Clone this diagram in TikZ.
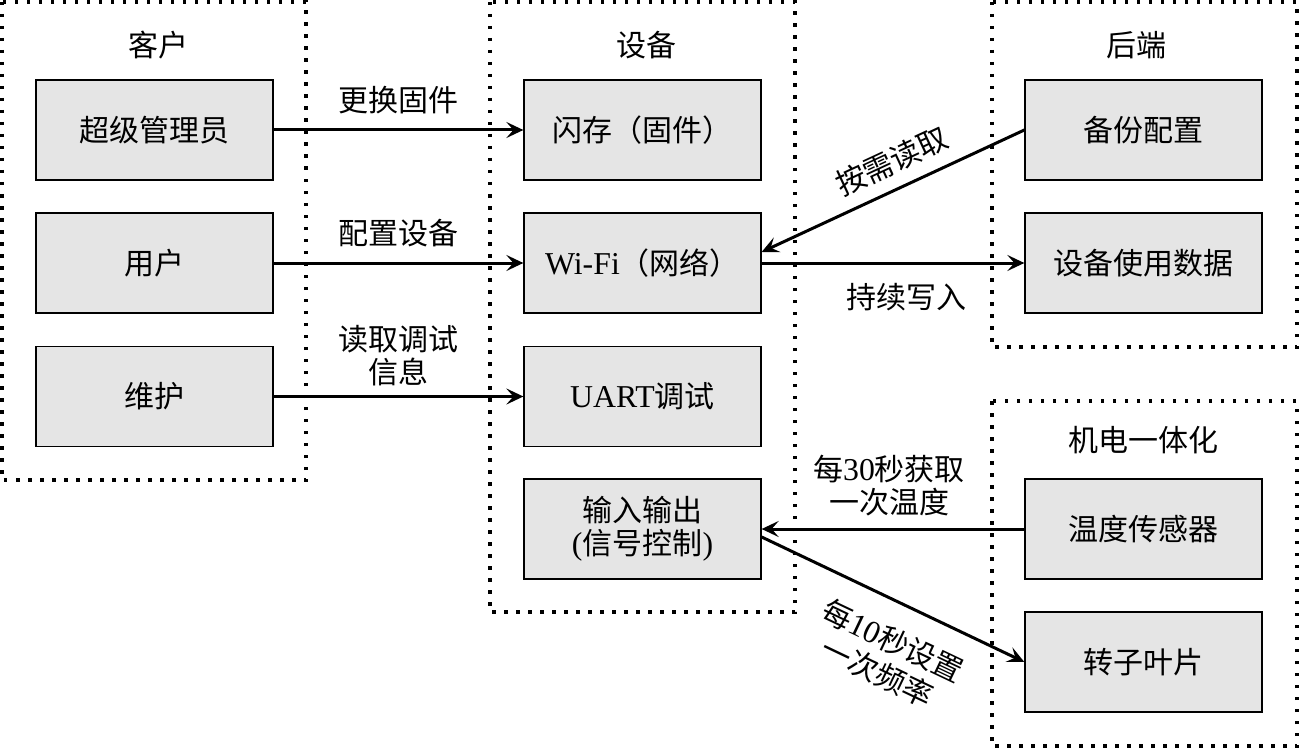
\documentclass[tikz,border=0pt]{standalone}
\usepackage{fontspec}
\setmainfont{Liberation Serif}[Scale=1.06]
\newfontfamily\cjk{Noto Sans CJK SC}
\usetikzlibrary{arrows.meta}
\newcommand\en[1]{{\rmfamily #1}}
\begin{document}
\begin{tikzpicture}[x=1pt,y=-1pt,
 txt/.style={font=\cjk\fontsize{30}{33}\selectfont, align=center},
 box/.style={txt, draw, line width=1.3pt, fill=black!10, minimum width=237pt, minimum height=100pt, inner sep=0pt},
 lbl/.style={txt, inner sep=2pt},
 grp/.style={line width=3.5pt, dash pattern=on 3.5pt off 8.5pt},
 arr/.style={line width=3pt, -{Stealth[length=17pt,width=16pt,inset=7pt]}}
]
\useasboundingbox (0,0) rectangle (1299,749);
% groups
\draw[grp] (2,2) rectangle (306,480);
\draw[grp] (490,2) rectangle (795,612);
\draw[grp] (992,2) rectangle (1297,347);
\draw[grp] (992,401) rectangle (1297,746);
% titles
\node[lbl] (tclient) at (158,45) {客户};
\node[lbl] (tdev) at (646,45) {设备};
\node[lbl] (tback) at (1136,45) {后端};
\node[lbl] (tmech) at (1143,440) {机电一体化};
% client
\node[box] (admin) at (154.5,130) {超级管理员};
\node[box] (user) at (154.5,263) {用户};
\node[box] (maint) at (154.5,396.5) {维护};
% device
\node[box] (flash) at (642.5,130) {闪存（固件）};
\node[box] (wifi) at (642.5,263) {\en{Wi-Fi}（网络）};
\node[box] (uart) at (642.5,396.5) {\en{UART}调试};
\node[box] (io) at (642.5,529) {输入输出\\\en{(}信号控制\en{)}};
% backend
\node[box] (backup) at (1143.5,130) {备份配置};
\node[box] (usage) at (1143.5,263) {设备使用数据};
% mech
\node[box] (temp) at (1143.5,529) {温度传感器};
\node[box] (rotor) at (1143.5,662) {转子叶片};
% arrows
\draw[arr] (admin.east) -- node[lbl, above=13pt] (l1) {更换固件} (flash.west);
\draw[arr] (user.east) -- node[lbl, above=13pt] (l2) {配置设备} (wifi.west);
\draw[arr] (maint.east) -- node[lbl, above=7pt] (l3) {读取调试\\信息} (uart.west);
\draw[arr] (backup.west) -- node[lbl, sloped, above=10pt, pos=0.46] (l4) {按需读取} ([yshift=11pt]wifi.east);
\draw[arr] (wifi.east) -- node[lbl, below=17pt, xshift=13pt] (l5) {持续写入} (usage.west);
\draw[arr] (temp.west) -- node[lbl, above=9pt, xshift=-4pt] (l6) {每\en{30}秒获取\\一次温度} (io.east);
\draw[arr] ([yshift=-8pt]io.east) -- node[lbl, sloped, below=22pt, pos=0.56, inner sep=0pt, font=\cjk\fontsize{30}{35}\selectfont] (l7) {每\en{10}秒设置\\一次频率} (rotor.west);
\end{tikzpicture}
\end{document}
